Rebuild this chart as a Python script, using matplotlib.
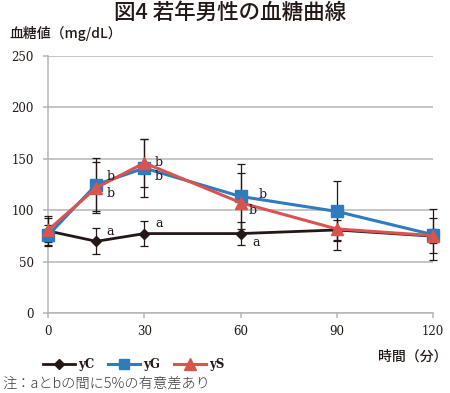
import matplotlib
matplotlib.use("Agg")
import matplotlib.pyplot as plt
from matplotlib.lines import Line2D

plt.rcParams['font.family'] = ['Noto Sans CJK JP', 'DejaVu Sans']

# ---- data ----
times = [0, 15, 30, 60, 90, 120]
yC = [80, 70, 77.5, 77.5, 81, 75]
yC_err = [15, 12.5, 12.5, 11.5, 10, 7]
yG = [76, 125, 141, 113.5, 99, 76.5]
yG_err = [10, 26, 28.5, 31.5, 29, 24.5]
yS = [81, 122, 146, 107.5, 82, 75.5]
yS_err = [12, 24.5, 23.5, 28.5, 20, 17]
series_names = ["yC", "yG", "yS"]
x_ticks = [0, 30, 60, 90, 120]
y_ticks = [0, 50, 100, 150, 200, 250]

# significance labels: (text, x, y)
sig_labels = [
    ("a", 18.2, 79.6), ("b", 18.2, 132.8), ("b", 18.2, 116.0),
    ("a", 33.3, 87.7), ("b", 33.3, 146.7), ("b", 33.3, 132.8),
    ("a", 63.8, 68.4), ("b", 65.6, 115.0), ("b", 62.4, 99.6),
]

c_black = "#231815"
c_blue = "#2e7bbf"
c_red = "#d9534f"
c_grid = "#b5b5b5"

fig = plt.figure(figsize=(4.5, 3.93), dpi=100)
ax = fig.add_axes([0.1073, 0.2023, 0.8543, 0.656])

ax.set_xlim(0, 120)
ax.set_ylim(0, 250)
ax.set_xticks(x_ticks)
ax.set_yticks(y_ticks)
ax.yaxis.grid(True, color=c_grid, linewidth=1.1)
ax.set_axisbelow(True)
for s in ["top", "right"]:
    ax.spines[s].set_visible(False)
ax.spines["left"].set_color(c_grid)
ax.spines["left"].set_linewidth(1.1)
ax.spines["bottom"].set_color(c_grid)
ax.spines["bottom"].set_linewidth(1.1)
ax.tick_params(axis="y", direction="out", length=3.5, width=1.1, color=c_grid,
               pad=7, labelsize=8.5, labelcolor="#231815")
ax.tick_params(axis="x", direction="out", length=3.5, width=1.1, color=c_grid,
               pad=5, labelsize=8.5, labelcolor="#231815")
for lab in ax.get_xticklabels() + ax.get_yticklabels():
    lab.set_fontfamily("DejaVu Serif")

# error bars
for vals, errs in [(yC, yC_err), (yG, yG_err), (yS, yS_err)]:
    ax.errorbar(times, vals, yerr=errs, fmt="none", ecolor=c_black,
                elinewidth=0.9, capsize=2.6, capthick=0.9, zorder=3, clip_on=False)

ax.plot(times, yC, color=c_black, linewidth=2.0, marker="D", markersize=5,
        zorder=4, clip_on=False)
ax.plot(times, yG, color=c_blue, linewidth=2.2, marker="s", markersize=8,
        zorder=5, clip_on=False)
ax.plot(times, yS, color=c_red, linewidth=2.2, marker="^", markersize=9,
        zorder=6, clip_on=False)

for t, x, y in sig_labels:
    ax.text(x, y, t, fontsize=9, family="DejaVu Serif", color=c_black,
            ha="left", va="center", zorder=7)

# legend
handles = [
    Line2D([], [], color=c_black, linewidth=2.0, marker="D", markersize=5.5),
    Line2D([], [], color=c_blue, linewidth=2.2, marker="s", markersize=7.5),
    Line2D([], [], color=c_red, linewidth=2.2, marker="^", markersize=8),
]
leg = fig.legend(handles, series_names, loc="center left",
                 bbox_to_anchor=(0.096, 0.073), ncol=3, frameon=False,
                 handlelength=2.7, handletextpad=0.25, columnspacing=1.2,
                 prop={"family": "DejaVu Serif", "size": 8.5, "weight": "bold"},
                 borderaxespad=0, borderpad=0)
for txt in leg.get_texts():
    txt.set_color(c_black)

fig.text(0.511, 0.968, "図4 若年男性の血糖曲線", ha="center", va="center",
         fontsize=15.5, color="#231815", fontweight="medium")
fig.text(0.02, 0.916, "血糖値（mg/dL）", ha="left", va="center",
         fontsize=10, color="#231815", fontweight="medium")
fig.text(0.995, 0.092, "時間（分）", ha="right", va="center",
         fontsize=10, color="#231815", fontweight="medium")
fig.text(0.005, 0.025, "注：aとbの間に5%の有意差あり", ha="left", va="center",
         fontsize=10.3, color="#3a3a3a", fontweight="light")

fig.savefig("out.png", dpi=100)
